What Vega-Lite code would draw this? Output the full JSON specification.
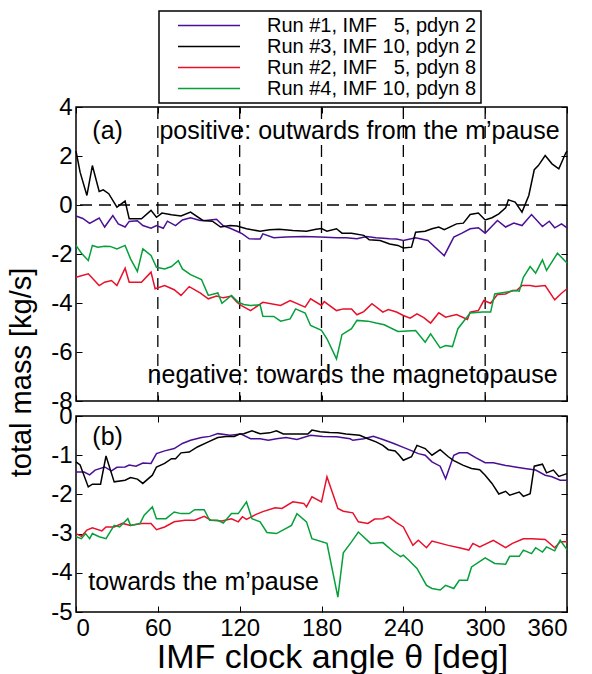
{
"$schema": "https://vega.github.io/schema/vega-lite/v6.json",
"padding": {"left": 6, "top": 10, "right": 4, "bottom": 0},
"background": "white",
"config": {
  "font": "Liberation Sans",
  "view": {"stroke": "black", "strokeWidth": 1.5},
  "axis": {"labelFont": "Liberation Sans", "labelFontSize": 24, "labelColor": "black", "titleFont": "Liberation Sans", "titleFontSize": 29, "titleFontWeight": "normal", "titleColor": "black", "tickColor": "black", "tickWidth": 1, "tickSize": -6, "labelPadding": 10, "domain": false, "grid": false, "labelExpr": "'' + datum.value"},
  "legend": {"strokeColor": "black", "fillColor": "white", "strokeWidth": 1.5}
},
"datasets": {
"a": [
{"s":"1","x":0,"y":-0.45},{"s":"1","x":5,"y":-0.55},{"s":"1","x":10,"y":-0.75},{"s":"1","x":17,"y":-0.53},{"s":"1","x":21,"y":-0.9},{"s":"1","x":27,"y":-0.43},{"s":"1","x":31,"y":-0.77},{"s":"1","x":36,"y":-0.9},{"s":"1","x":39,"y":-0.67},{"s":"1","x":45,"y":-0.64},{"s":"1","x":49,"y":-0.84},{"s":"1","x":55,"y":-0.95},{"s":"1","x":59,"y":-0.84},{"s":"1","x":64,"y":-0.95},{"s":"1","x":67,"y":-0.66},{"s":"1","x":73,"y":-0.84},{"s":"1","x":78,"y":-0.61},{"s":"1","x":84,"y":-0.52},{"s":"1","x":91,"y":-0.63},{"s":"1","x":95,"y":-0.63},{"s":"1","x":103,"y":-0.58},{"s":"1","x":108,"y":-0.85},{"s":"1","x":113,"y":-0.95},{"s":"1","x":118,"y":-1.07},{"s":"1","x":122,"y":-1.18},{"s":"1","x":127,"y":-1.38},{"s":"1","x":135,"y":-1.39},{"s":"1","x":137,"y":-1.18},{"s":"1","x":145,"y":-1.34},{"s":"1","x":154,"y":-1.31},{"s":"1","x":167,"y":-1.29},{"s":"1","x":179,"y":-1.31},{"s":"1","x":191,"y":-1.34},{"s":"1","x":198,"y":-1.34},{"s":"1","x":206,"y":-1.38},{"s":"1","x":213,"y":-1.29},{"s":"1","x":220,"y":-1.34},{"s":"1","x":230,"y":-1.38},{"s":"1","x":235,"y":-1.39},{"s":"1","x":240,"y":-1.45},{"s":"1","x":249,"y":-1.34},{"s":"1","x":258,"y":-1.45},{"s":"1","x":270,"y":-2.07},{"s":"1","x":277,"y":-1.31},{"s":"1","x":283,"y":-1.15},{"s":"1","x":289,"y":-0.97},{"s":"1","x":295,"y":-0.93},{"s":"1","x":300,"y":-1.15},{"s":"1","x":309,"y":-0.63},{"s":"1","x":315,"y":-0.9},{"s":"1","x":321,"y":-0.74},{"s":"1","x":327,"y":-0.84},{"s":"1","x":334,"y":-0.39},{"s":"1","x":342,"y":-0.88},{"s":"1","x":347,"y":-0.66},{"s":"1","x":351,"y":-0.93},{"s":"1","x":356,"y":-0.77},{"s":"1","x":360,"y":-0.93},
{"s":"3","x":0,"y":2.2},{"s":"3","x":3,"y":1.34},{"s":"3","x":8,"y":0.39},{"s":"3","x":12,"y":1.61},{"s":"3","x":17,"y":0.55},{"s":"3","x":20,"y":0.62},{"s":"3","x":24,"y":0.46},{"s":"3","x":30,"y":-0.09},{"s":"3","x":36,"y":0.16},{"s":"3","x":39,"y":-0.56},{"s":"3","x":48,"y":-0.56},{"s":"3","x":55,"y":-0.22},{"s":"3","x":59,"y":-0.5},{"s":"3","x":63,"y":-0.33},{"s":"3","x":70,"y":-0.4},{"s":"3","x":77,"y":-0.45},{"s":"3","x":84,"y":-0.29},{"s":"3","x":93,"y":-0.63},{"s":"3","x":100,"y":-0.66},{"s":"3","x":106,"y":-0.9},{"s":"3","x":113,"y":-0.84},{"s":"3","x":118,"y":-0.86},{"s":"3","x":125,"y":-0.97},{"s":"3","x":135,"y":-1.07},{"s":"3","x":142,"y":-1.01},{"s":"3","x":149,"y":-0.99},{"s":"3","x":159,"y":-1.04},{"s":"3","x":169,"y":-1.07},{"s":"3","x":176,"y":-0.99},{"s":"3","x":180,"y":-0.96},{"s":"3","x":184,"y":-1.07},{"s":"3","x":191,"y":-0.97},{"s":"3","x":195,"y":-1.15},{"s":"3","x":202,"y":-1.15},{"s":"3","x":211,"y":-1.24},{"s":"3","x":215,"y":-1.42},{"s":"3","x":223,"y":-1.45},{"s":"3","x":230,"y":-1.59},{"s":"3","x":236,"y":-1.65},{"s":"3","x":240,"y":-1.75},{"s":"3","x":246,"y":-1.72},{"s":"3","x":249,"y":-1.11},{"s":"3","x":256,"y":-1.07},{"s":"3","x":261,"y":-0.97},{"s":"3","x":266,"y":-0.9},{"s":"3","x":270,"y":-1.01},{"s":"3","x":274,"y":-0.9},{"s":"3","x":279,"y":-0.77},{"s":"3","x":284,"y":-0.74},{"s":"3","x":289,"y":-0.39},{"s":"3","x":295,"y":-0.33},{"s":"3","x":300,"y":-0.61},{"s":"3","x":305,"y":-0.52},{"s":"3","x":310,"y":-0.36},{"s":"3","x":315,"y":-0.12},{"s":"3","x":317,"y":0.21},{"s":"3","x":322,"y":0.12},{"s":"3","x":327,"y":-0.29},{"s":"3","x":332,"y":0.39},{"s":"3","x":336,"y":1.44},{"s":"3","x":339,"y":1.61},{"s":"3","x":344,"y":2.02},{"s":"3","x":349,"y":1.68},{"s":"3","x":354,"y":1.48},{"s":"3","x":359,"y":2.11},{"s":"3","x":360,"y":2.2},
{"s":"2","x":0,"y":-2.95},{"s":"2","x":9,"y":-2.81},{"s":"2","x":17,"y":-3.29},{"s":"2","x":21,"y":-3.15},{"s":"2","x":26,"y":-3.08},{"s":"2","x":30,"y":-3.29},{"s":"2","x":36,"y":-2.58},{"s":"2","x":39,"y":-3.15},{"s":"2","x":48,"y":-3.15},{"s":"2","x":55,"y":-2.74},{"s":"2","x":58,"y":-3.42},{"s":"2","x":65,"y":-3.29},{"s":"2","x":72,"y":-3.46},{"s":"2","x":77,"y":-3.69},{"s":"2","x":83,"y":-3.33},{"s":"2","x":91,"y":-3.59},{"s":"2","x":97,"y":-3.83},{"s":"2","x":103,"y":-3.72},{"s":"2","x":108,"y":-3.79},{"s":"2","x":114,"y":-3.72},{"s":"2","x":118,"y":-3.97},{"s":"2","x":121,"y":-4.1},{"s":"2","x":128,"y":-4.31},{"s":"2","x":137,"y":-3.97},{"s":"2","x":150,"y":-4.1},{"s":"2","x":157,"y":-3.9},{"s":"2","x":168,"y":-4.17},{"s":"2","x":172,"y":-3.83},{"s":"2","x":180,"y":-4.1},{"s":"2","x":182,"y":-3.94},{"s":"2","x":191,"y":-4.31},{"s":"2","x":196,"y":-4.24},{"s":"2","x":202,"y":-4.24},{"s":"2","x":206,"y":-4.48},{"s":"2","x":211,"y":-4.35},{"s":"2","x":217,"y":-4.03},{"s":"2","x":225,"y":-4.37},{"s":"2","x":229,"y":-4.27},{"s":"2","x":235,"y":-4.37},{"s":"2","x":240,"y":-4.51},{"s":"2","x":245,"y":-4.62},{"s":"2","x":250,"y":-4.44},{"s":"2","x":255,"y":-4.6},{"s":"2","x":260,"y":-4.82},{"s":"2","x":266,"y":-4.4},{"s":"2","x":271,"y":-4.58},{"s":"2","x":279,"y":-4.47},{"s":"2","x":287,"y":-4.67},{"s":"2","x":289,"y":-4.37},{"s":"2","x":295,"y":-4.31},{"s":"2","x":299,"y":-3.9},{"s":"2","x":304,"y":-4.01},{"s":"2","x":309,"y":-3.65},{"s":"2","x":315,"y":-3.63},{"s":"2","x":320,"y":-3.49},{"s":"2","x":323,"y":-3.49},{"s":"2","x":327,"y":-3.29},{"s":"2","x":333,"y":-3.29},{"s":"2","x":337,"y":-3.33},{"s":"2","x":344,"y":-3.29},{"s":"2","x":351,"y":-3.87},{"s":"2","x":356,"y":-3.6},{"s":"2","x":360,"y":-3.42},
{"s":"4","x":0,"y":-1.65},{"s":"4","x":4,"y":-1.97},{"s":"4","x":9,"y":-2.27},{"s":"4","x":12,"y":-1.65},{"s":"4","x":16,"y":-1.72},{"s":"4","x":21,"y":-1.68},{"s":"4","x":25,"y":-1.69},{"s":"4","x":30,"y":-1.79},{"s":"4","x":36,"y":-1.65},{"s":"4","x":40,"y":-2.2},{"s":"4","x":45,"y":-2.71},{"s":"4","x":49,"y":-1.79},{"s":"4","x":55,"y":-2.06},{"s":"4","x":59,"y":-2.54},{"s":"4","x":65,"y":-2.61},{"s":"4","x":70,"y":-2.51},{"s":"4","x":75,"y":-2.27},{"s":"4","x":78,"y":-2.61},{"s":"4","x":84,"y":-2.84},{"s":"4","x":92,"y":-3.04},{"s":"4","x":97,"y":-3.69},{"s":"4","x":104,"y":-3.59},{"s":"4","x":107,"y":-4.01},{"s":"4","x":114,"y":-3.69},{"s":"4","x":119,"y":-3.97},{"s":"4","x":123,"y":-4.06},{"s":"4","x":128,"y":-4.1},{"s":"4","x":135,"y":-4.07},{"s":"4","x":137,"y":-4.54},{"s":"4","x":145,"y":-4.55},{"s":"4","x":150,"y":-4.74},{"s":"4","x":157,"y":-4.65},{"s":"4","x":161,"y":-4.24},{"s":"4","x":168,"y":-4.41},{"s":"4","x":172,"y":-4.92},{"s":"4","x":180,"y":-5.12},{"s":"4","x":184,"y":-5.46},{"s":"4","x":191,"y":-6.28},{"s":"4","x":195,"y":-5.29},{"s":"4","x":202,"y":-5.05},{"s":"4","x":206,"y":-4.71},{"s":"4","x":214,"y":-4.74},{"s":"4","x":220,"y":-4.82},{"s":"4","x":226,"y":-4.89},{"s":"4","x":236,"y":-5.16},{"s":"4","x":240,"y":-5.15},{"s":"4","x":249,"y":-5.12},{"s":"4","x":256,"y":-5.6},{"s":"4","x":260,"y":-5.26},{"s":"4","x":267,"y":-5.83},{"s":"4","x":271,"y":-5.74},{"s":"4","x":276,"y":-5.78},{"s":"4","x":280,"y":-5.05},{"s":"4","x":289,"y":-4.41},{"s":"4","x":298,"y":-4.37},{"s":"4","x":304,"y":-4.37},{"s":"4","x":307,"y":-3.63},{"s":"4","x":315,"y":-3.56},{"s":"4","x":322,"y":-3.49},{"s":"4","x":325,"y":-3.52},{"s":"4","x":328,"y":-2.95},{"s":"4","x":333,"y":-2.51},{"s":"4","x":337,"y":-2.78},{"s":"4","x":342,"y":-2.24},{"s":"4","x":345,"y":-2.67},{"s":"4","x":353,"y":-1.97},{"s":"4","x":360,"y":-2.37}
],
"b": [
{"s":"1","x":0,"y":-1.43},{"s":"1","x":6,"y":-1.43},{"s":"1","x":10,"y":-1.5},{"s":"1","x":14,"y":-1.38},{"s":"1","x":21,"y":-1.3},{"s":"1","x":26,"y":-1.4},{"s":"1","x":30,"y":-1.31},{"s":"1","x":36,"y":-1.3},{"s":"1","x":39,"y":-1.25},{"s":"1","x":44,"y":-1.28},{"s":"1","x":49,"y":-1.2},{"s":"1","x":55,"y":-1.21},{"s":"1","x":59,"y":-0.96},{"s":"1","x":65,"y":-0.89},{"s":"1","x":72,"y":-0.83},{"s":"1","x":78,"y":-0.7},{"s":"1","x":84,"y":-0.62},{"s":"1","x":92,"y":-0.55},{"s":"1","x":98,"y":-0.52},{"s":"1","x":104,"y":-0.45},{"s":"1","x":113,"y":-0.49},{"s":"1","x":121,"y":-0.46},{"s":"1","x":128,"y":-0.58},{"s":"1","x":135,"y":-0.58},{"s":"1","x":141,"y":-0.62},{"s":"1","x":147,"y":-0.58},{"s":"1","x":154,"y":-0.55},{"s":"1","x":162,"y":-0.6},{"s":"1","x":172,"y":-0.49},{"s":"1","x":181,"y":-0.52},{"s":"1","x":191,"y":-0.53},{"s":"1","x":201,"y":-0.58},{"s":"1","x":203,"y":-0.62},{"s":"1","x":211,"y":-0.58},{"s":"1","x":218,"y":-0.52},{"s":"1","x":225,"y":-0.6},{"s":"1","x":233,"y":-0.7},{"s":"1","x":240,"y":-0.8},{"s":"1","x":245,"y":-0.87},{"s":"1","x":251,"y":-0.96},{"s":"1","x":256,"y":-1.0},{"s":"1","x":261,"y":-1.17},{"s":"1","x":267,"y":-1.28},{"s":"1","x":271,"y":-1.6},{"s":"1","x":277,"y":-1.0},{"s":"1","x":281,"y":-0.94},{"s":"1","x":287,"y":-0.94},{"s":"1","x":293,"y":-1.06},{"s":"1","x":300,"y":-1.19},{"s":"1","x":306,"y":-1.19},{"s":"1","x":315,"y":-1.26},{"s":"1","x":322,"y":-1.3},{"s":"1","x":329,"y":-1.34},{"s":"1","x":337,"y":-1.38},{"s":"1","x":344,"y":-1.51},{"s":"1","x":349,"y":-1.55},{"s":"1","x":355,"y":-1.64},{"s":"1","x":360,"y":-1.64},
{"s":"3","x":0,"y":-1.17},{"s":"3","x":3,"y":-1.25},{"s":"3","x":9,"y":-1.81},{"s":"3","x":12,"y":-1.74},{"s":"3","x":18,"y":-1.74},{"s":"3","x":22,"y":-1.02},{"s":"3","x":28,"y":-1.68},{"s":"3","x":36,"y":-1.64},{"s":"3","x":40,"y":-1.57},{"s":"3","x":45,"y":-1.61},{"s":"3","x":49,"y":-1.72},{"s":"3","x":56,"y":-1.51},{"s":"3","x":59,"y":-1.3},{"s":"3","x":65,"y":-1.21},{"s":"3","x":70,"y":-1.09},{"s":"3","x":73,"y":-1.09},{"s":"3","x":77,"y":-0.94},{"s":"3","x":83,"y":-0.92},{"s":"3","x":89,"y":-0.79},{"s":"3","x":97,"y":-0.66},{"s":"3","x":104,"y":-0.55},{"s":"3","x":110,"y":-0.52},{"s":"3","x":116,"y":-0.52},{"s":"3","x":120,"y":-0.46},{"s":"3","x":123,"y":-0.45},{"s":"3","x":129,"y":-0.38},{"s":"3","x":135,"y":-0.45},{"s":"3","x":142,"y":-0.43},{"s":"3","x":147,"y":-0.38},{"s":"3","x":152,"y":-0.46},{"s":"3","x":162,"y":-0.46},{"s":"3","x":170,"y":-0.46},{"s":"3","x":173,"y":-0.36},{"s":"3","x":179,"y":-0.4},{"s":"3","x":186,"y":-0.42},{"s":"3","x":192,"y":-0.43},{"s":"3","x":198,"y":-0.46},{"s":"3","x":208,"y":-0.49},{"s":"3","x":214,"y":-0.58},{"s":"3","x":220,"y":-0.66},{"s":"3","x":225,"y":-0.75},{"s":"3","x":229,"y":-0.86},{"s":"3","x":234,"y":-0.89},{"s":"3","x":237,"y":-1.0},{"s":"3","x":240,"y":-1.13},{"s":"3","x":246,"y":-1.04},{"s":"3","x":250,"y":-0.75},{"s":"3","x":256,"y":-0.83},{"s":"3","x":261,"y":-1.0},{"s":"3","x":267,"y":-0.86},{"s":"3","x":273,"y":-1.04},{"s":"3","x":277,"y":-1.14},{"s":"3","x":284,"y":-1.26},{"s":"3","x":290,"y":-1.34},{"s":"3","x":296,"y":-1.37},{"s":"3","x":300,"y":-1.51},{"s":"3","x":305,"y":-1.72},{"s":"3","x":310,"y":-1.99},{"s":"3","x":315,"y":-1.92},{"s":"3","x":318,"y":-2.02},{"s":"3","x":325,"y":-1.94},{"s":"3","x":328,"y":-2.05},{"s":"3","x":333,"y":-1.98},{"s":"3","x":336,"y":-1.28},{"s":"3","x":342,"y":-1.23},{"s":"3","x":345,"y":-1.45},{"s":"3","x":350,"y":-1.38},{"s":"3","x":354,"y":-1.54},{"s":"3","x":360,"y":-1.47},
{"s":"2","x":0,"y":-3.0},{"s":"2","x":4,"y":-3.07},{"s":"2","x":8,"y":-2.91},{"s":"2","x":12,"y":-2.85},{"s":"2","x":19,"y":-2.93},{"s":"2","x":22,"y":-2.83},{"s":"2","x":28,"y":-2.83},{"s":"2","x":34,"y":-2.74},{"s":"2","x":40,"y":-2.79},{"s":"2","x":48,"y":-2.74},{"s":"2","x":55,"y":-2.74},{"s":"2","x":59,"y":-2.9},{"s":"2","x":65,"y":-2.83},{"s":"2","x":72,"y":-2.7},{"s":"2","x":80,"y":-2.66},{"s":"2","x":87,"y":-2.66},{"s":"2","x":94,"y":-2.56},{"s":"2","x":99,"y":-2.66},{"s":"2","x":107,"y":-2.68},{"s":"2","x":114,"y":-2.62},{"s":"2","x":119,"y":-2.7},{"s":"2","x":122,"y":-2.57},{"s":"2","x":125,"y":-2.64},{"s":"2","x":132,"y":-2.51},{"s":"2","x":137,"y":-2.44},{"s":"2","x":146,"y":-2.34},{"s":"2","x":151,"y":-2.36},{"s":"2","x":159,"y":-2.19},{"s":"2","x":167,"y":-2.23},{"s":"2","x":169,"y":-2.32},{"s":"2","x":173,"y":-2.06},{"s":"2","x":180,"y":-2.19},{"s":"2","x":184,"y":-1.55},{"s":"2","x":192,"y":-2.36},{"s":"2","x":196,"y":-2.43},{"s":"2","x":203,"y":-2.47},{"s":"2","x":207,"y":-2.7},{"s":"2","x":214,"y":-2.74},{"s":"2","x":219,"y":-2.63},{"s":"2","x":225,"y":-2.62},{"s":"2","x":229,"y":-2.56},{"s":"2","x":235,"y":-2.72},{"s":"2","x":240,"y":-2.83},{"s":"2","x":247,"y":-3.3},{"s":"2","x":251,"y":-3.17},{"s":"2","x":257,"y":-3.36},{"s":"2","x":261,"y":-3.19},{"s":"2","x":273,"y":-3.3},{"s":"2","x":281,"y":-3.36},{"s":"2","x":288,"y":-3.42},{"s":"2","x":291,"y":-3.25},{"s":"2","x":296,"y":-3.34},{"s":"2","x":306,"y":-3.17},{"s":"2","x":315,"y":-3.36},{"s":"2","x":320,"y":-3.25},{"s":"2","x":328,"y":-3.13},{"s":"2","x":334,"y":-3.13},{"s":"2","x":344,"y":-3.15},{"s":"2","x":351,"y":-3.36},{"s":"2","x":355,"y":-3.21},{"s":"2","x":360,"y":-3.21},
{"s":"4","x":0,"y":-3.08},{"s":"4","x":4,"y":-3.13},{"s":"4","x":7,"y":-3.0},{"s":"4","x":10,"y":-3.13},{"s":"4","x":12,"y":-3.0},{"s":"4","x":17,"y":-3.08},{"s":"4","x":22,"y":-3.13},{"s":"4","x":28,"y":-2.79},{"s":"4","x":32,"y":-2.83},{"s":"4","x":38,"y":-2.62},{"s":"4","x":40,"y":-2.79},{"s":"4","x":47,"y":-2.74},{"s":"4","x":50,"y":-2.53},{"s":"4","x":56,"y":-2.32},{"s":"4","x":59,"y":-2.62},{"s":"4","x":66,"y":-2.62},{"s":"4","x":72,"y":-2.45},{"s":"4","x":77,"y":-2.49},{"s":"4","x":83,"y":-2.49},{"s":"4","x":87,"y":-2.39},{"s":"4","x":94,"y":-2.39},{"s":"4","x":98,"y":-2.66},{"s":"4","x":104,"y":-2.66},{"s":"4","x":108,"y":-2.73},{"s":"4","x":114,"y":-2.49},{"s":"4","x":119,"y":-2.49},{"s":"4","x":125,"y":-2.19},{"s":"4","x":129,"y":-2.62},{"s":"4","x":135,"y":-2.7},{"s":"4","x":140,"y":-2.97},{"s":"4","x":147,"y":-3.0},{"s":"4","x":158,"y":-2.79},{"s":"4","x":162,"y":-2.49},{"s":"4","x":169,"y":-2.7},{"s":"4","x":173,"y":-3.13},{"s":"4","x":184,"y":-3.25},{"s":"4","x":192,"y":-4.62},{"s":"4","x":196,"y":-3.49},{"s":"4","x":202,"y":-3.21},{"s":"4","x":207,"y":-2.96},{"s":"4","x":216,"y":-3.25},{"s":"4","x":225,"y":-3.23},{"s":"4","x":233,"y":-3.47},{"s":"4","x":238,"y":-3.59},{"s":"4","x":240,"y":-3.55},{"s":"4","x":244,"y":-3.68},{"s":"4","x":250,"y":-3.89},{"s":"4","x":257,"y":-4.32},{"s":"4","x":261,"y":-4.4},{"s":"4","x":267,"y":-4.44},{"s":"4","x":271,"y":-4.32},{"s":"4","x":277,"y":-4.4},{"s":"4","x":281,"y":-4.19},{"s":"4","x":287,"y":-4.19},{"s":"4","x":290,"y":-3.85},{"s":"4","x":300,"y":-3.62},{"s":"4","x":307,"y":-3.76},{"s":"4","x":315,"y":-3.78},{"s":"4","x":318,"y":-3.58},{"s":"4","x":325,"y":-3.58},{"s":"4","x":328,"y":-3.42},{"s":"4","x":334,"y":-3.51},{"s":"4","x":337,"y":-3.36},{"s":"4","x":342,"y":-3.47},{"s":"4","x":345,"y":-3.34},{"s":"4","x":351,"y":-3.44},{"s":"4","x":355,"y":-3.17},{"s":"4","x":360,"y":-3.41}
]
},
"spacing": 15,
"bounds": "flush",
"resolve": {"scale": {"color": "shared"}},
"vconcat": [
{
  "width": 491, "height": 294,
  "resolve": {"axis": {"x": "independent", "y": "independent"}},
  "layer": [
    {"data": {"values": [{"g": 60}, {"g": 120}, {"g": 180}, {"g": 240}, {"g": 300}]},
     "mark": {"type": "rule", "color": "black", "strokeWidth": 1.3, "strokeDash": [12, 7]},
     "encoding": {"x": {"field": "g", "type": "quantitative", "scale": {"domain": [0, 360], "nice": false}, "axis": {"orient": "top", "values": [0, 60, 120, 180, 240, 300, 360], "labels": false, "title": null}}}},
    {"data": {"values": [{"z": 0}]},
     "mark": {"type": "rule", "color": "black", "strokeWidth": 1.3, "strokeDash": [12, 7]},
     "encoding": {"y": {"field": "z", "type": "quantitative", "scale": {"domain": [-8, 4], "nice": false}, "axis": {"orient": "right", "values": [-8, -6, -4, -2, 0, 2, 4], "labels": false, "title": null}}}},
    {"data": {"name": "a"},
     "mark": {"type": "line", "strokeWidth": 1.5},
     "encoding": {
       "x": {"field": "x", "type": "quantitative", "axis": {"orient": "bottom", "values": [0, 60, 120, 180, 240, 300, 360], "labels": false, "title": null}},
       "y": {"field": "y", "type": "quantitative", "axis": {"orient": "left", "values": [-8, -6, -4, -2, 0, 2, 4], "title": "total mass [kg/s]", "titleY": 265, "titlePadding": 14}},
       "color": {"field": "s", "type": "nominal", "scale": {"domain": ["1", "3", "2", "4"], "range": ["#4B0F96", "#000000", "#E8102A", "#05A03A"]},
         "legend": {"orient": "none", "legendX": 83, "legendY": -96, "title": null, "direction": "vertical", "columns": 1, "gridAlign": "all", "symbolType": "stroke", "symbolSize": 3844, "clipHeight": 21, "symbolStrokeWidth": 1.5, "symbolOffset": 14, "labelOffset": 26, "labelFontSize": 20, "labelFont": "Liberation Sans", "labelColor": "black", "labelAlign": "left", "labelLimit": 400, "padding": 4, "rowPadding": 0, "strokeColor": "black",
           "labelExpr": "datum.label == '1' ? 'Run #1, IMF \u20075, pdyn 2\u2007' : datum.label == '3' ? 'Run #3, IMF 10, pdyn 2\u2007' : datum.label == '2' ? 'Run #2, IMF \u20075, pdyn 8\u2007' : 'Run #4, IMF 10, pdyn 8\u2007'"}},
       "detail": {"field": "s"}
     }},
    {"data": {"values": [{}]}, "mark": {"type": "text", "text": "(a)", "align": "left", "baseline": "middle", "fontSize": 25, "font": "Liberation Sans", "color": "black"},
     "encoding": {"x": {"datum": 12, "type": "quantitative", "axis": null}, "y": {"datum": 3.04, "type": "quantitative", "axis": null}}},
    {"data": {"values": [{}]}, "mark": {"type": "text", "text": "positive: outwards from the m\u2019pause", "align": "left", "baseline": "middle", "fontSize": 25, "font": "Liberation Sans", "color": "black"},
     "encoding": {"x": {"datum": 61.2, "type": "quantitative", "axis": null}, "y": {"datum": 3.04, "type": "quantitative", "axis": null}}},
    {"data": {"values": [{}]}, "mark": {"type": "text", "text": "negative: towards the magnetopause", "align": "left", "baseline": "middle", "fontSize": 25, "font": "Liberation Sans", "color": "black"},
     "encoding": {"x": {"datum": 52.5, "type": "quantitative", "axis": null}, "y": {"datum": -6.92, "type": "quantitative", "axis": null}}}
  ]
},
{
  "width": 491, "height": 196,
  "resolve": {"axis": {"x": "independent", "y": "independent"}},
  "layer": [
    {"data": {"values": [{}]}, "mark": {"type": "text", "text": "(b)", "align": "left", "baseline": "middle", "fontSize": 25, "font": "Liberation Sans", "color": "black"},
     "encoding": {"x": {"datum": 12, "type": "quantitative", "scale": {"domain": [0, 360], "nice": false}, "axis": {"orient": "top", "values": [0, 60, 120, 180, 240, 300, 360], "labels": false, "title": null}},
                  "y": {"datum": -0.54, "type": "quantitative", "scale": {"domain": [-5, 0], "nice": false}, "axis": {"orient": "right", "values": [-5, -4, -3, -2, -1, 0], "labels": false, "title": null}}}},
    {"data": {"name": "b"},
     "mark": {"type": "line", "strokeWidth": 1.5},
     "encoding": {
       "x": {"field": "x", "type": "quantitative", "axis": {"orient": "bottom", "values": [0, 60, 120, 180, 240, 300, 360], "title": "IMF clock angle \u03b8 [deg]", "titleFontSize": 34, "titleX": 256, "titlePadding": 0}},
       "y": {"field": "y", "type": "quantitative", "axis": {"orient": "left", "values": [-5, -4, -3, -2, -1, 0], "title": null}},
       "color": {"field": "s", "type": "nominal", "scale": {"domain": ["1", "3", "2", "4"], "range": ["#4B0F96", "#000000", "#E8102A", "#05A03A"]},
         "legend": {"orient": "none", "legendX": 83, "legendY": -96, "title": null, "direction": "vertical", "columns": 1, "gridAlign": "all", "symbolType": "stroke", "symbolSize": 3844, "clipHeight": 21, "symbolStrokeWidth": 1.5, "symbolOffset": 14, "labelOffset": 26, "labelFontSize": 20, "labelFont": "Liberation Sans", "labelColor": "black", "labelAlign": "left", "labelLimit": 400, "padding": 4, "rowPadding": 0, "strokeColor": "black",
           "labelExpr": "datum.label == '1' ? 'Run #1, IMF \u20075, pdyn 2\u2007' : datum.label == '3' ? 'Run #3, IMF 10, pdyn 2\u2007' : datum.label == '2' ? 'Run #2, IMF \u20075, pdyn 8\u2007' : 'Run #4, IMF 10, pdyn 8\u2007'"}},
       "detail": {"field": "s"}
     }},
    {"data": {"values": [{}]}, "mark": {"type": "text", "text": "towards the m\u2019pause", "align": "left", "baseline": "middle", "fontSize": 25, "font": "Liberation Sans", "color": "black"},
     "encoding": {"x": {"datum": 9, "type": "quantitative", "axis": null}, "y": {"datum": -4.24, "type": "quantitative", "axis": null}}}
  ]
}
]
}
